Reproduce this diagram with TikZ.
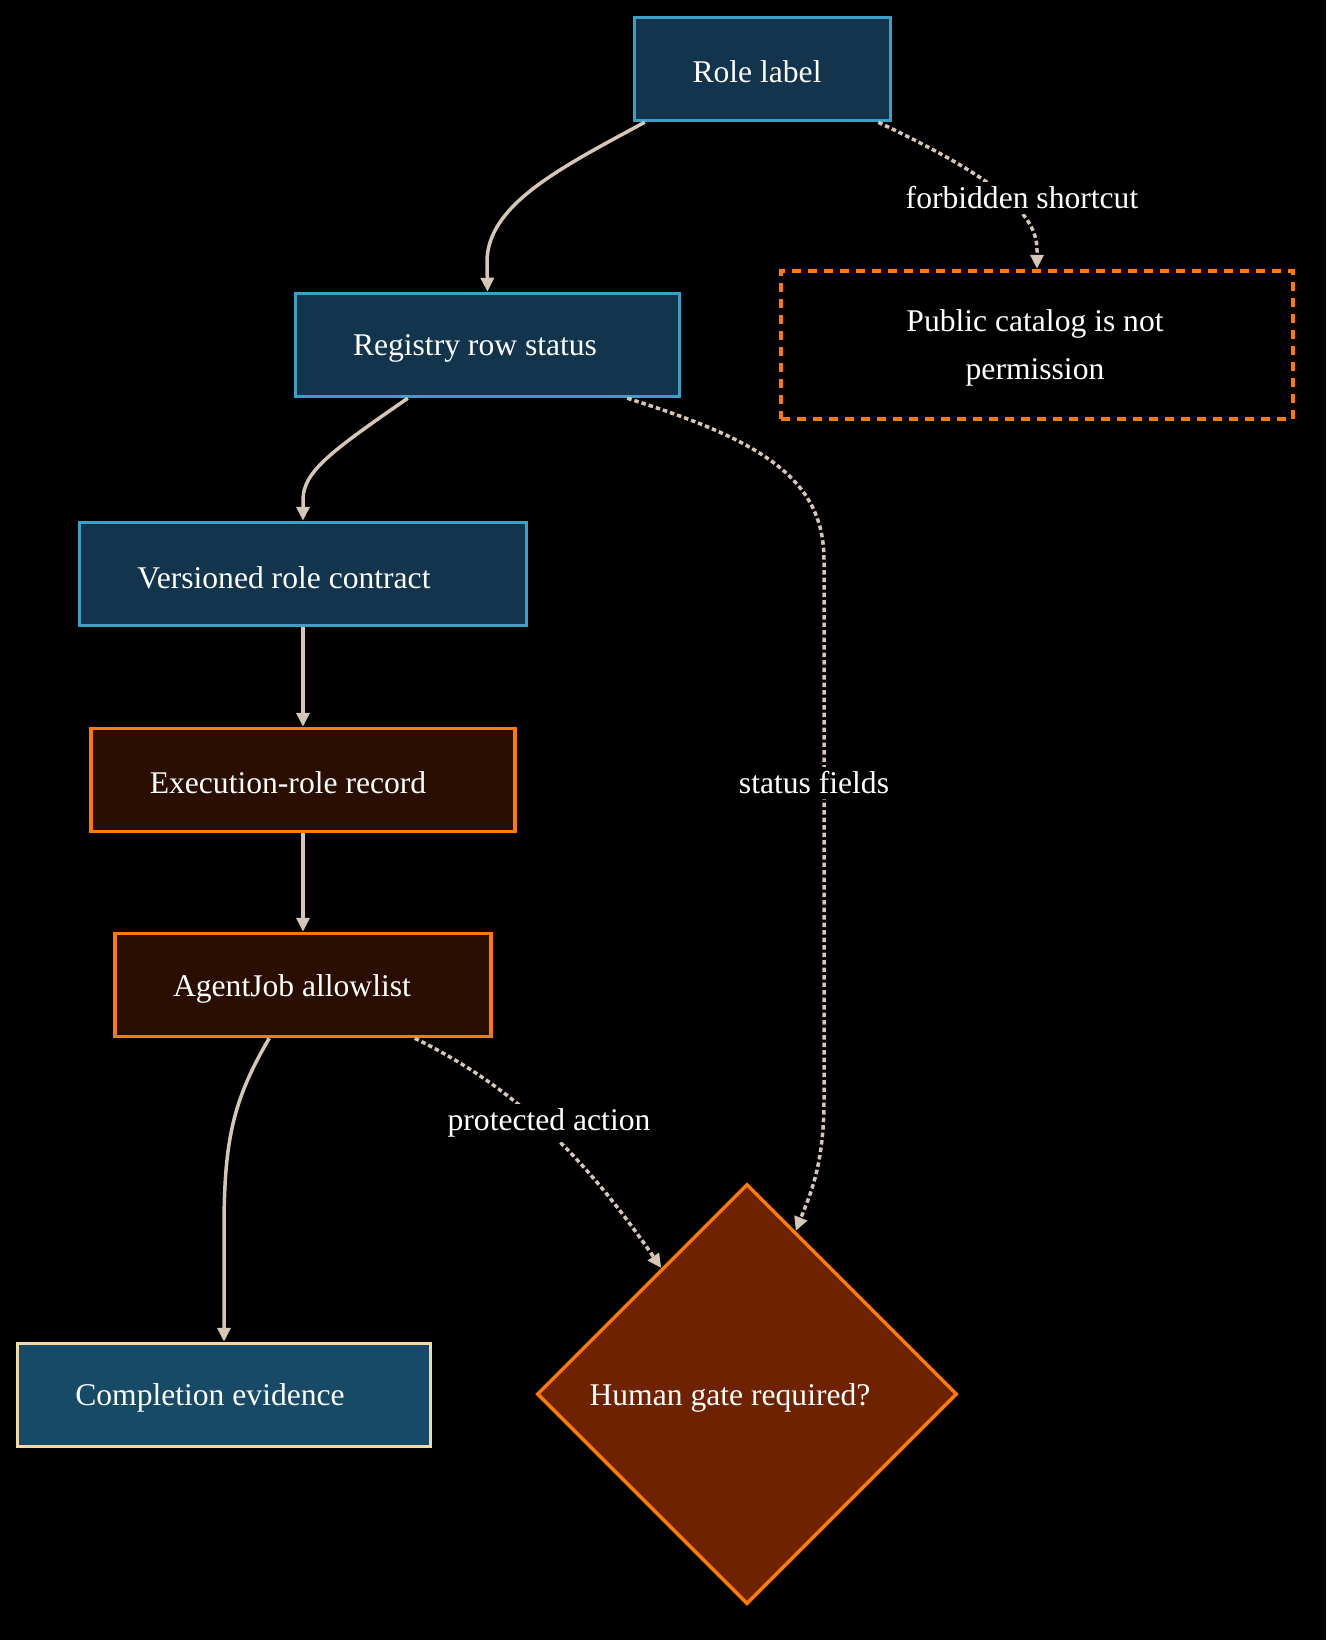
\documentclass[tikz,border=0pt]{standalone}
\usepackage{fontspec}
\setmainfont{Liberation Serif}
\usetikzlibrary{shapes.geometric,arrows.meta,calc}
\definecolor{bluefill}{HTML}{12344D}
\definecolor{blueline}{HTML}{3E9FC6}
\definecolor{evfill}{HTML}{174A66}
\definecolor{evline}{HTML}{F2D8A7}
\definecolor{orfill}{HTML}{2A0E02}
\definecolor{orline}{HTML}{FF7A00}
\definecolor{gatefill}{HTML}{6E2200}
\definecolor{edgec}{HTML}{D6C6B6}
\begin{document}
\begin{tikzpicture}[x=1pt,y=-1pt,
  box/.style={draw, line width=3.5pt, minimum width=#1, minimum height=103pt, inner sep=0pt},
  bluebox/.style={box=#1, fill=bluefill, draw=blueline},
  orbox/.style={box=#1, fill=orfill, draw=orline},
  txt/.style={text=white, inner sep=0pt, font=\fontsize{31.6pt}{48pt}\selectfont, align=center},
  lbl/.style={fill=black, text=white, inner sep=5pt, font=\fontsize{31.6pt}{48pt}\selectfont},
  arr/.style={draw=edgec, line width=3.5pt, -{Triangle[length=14pt,width=13pt]}},
  dotarr/.style={arr, dash pattern=on 4.5pt off 3pt}
]
\fill[black] (0,0) rectangle (1326,1640);
\useasboundingbox (0,0) rectangle (1326,1640);

% nodes
\node[bluebox=256pt] (rl) at (762.5,69) {};
\node[bluebox=384pt] (rs) at (487.5,345) {};
\node[draw=orline, fill=black, line width=4.5pt, dash pattern=on 9pt off 7pt,
      minimum width=512pt, minimum height=148pt, inner sep=0pt] (pc) at (1037,345) {};
\node[bluebox=447pt] (vrc) at (303,574) {};
\node[orbox=424pt] (er) at (303,780) {};
\node[orbox=376pt] (aj) at (303,985) {};
\node[box=413pt, fill=evfill, draw=evline] (ce) at (224,1395) {};
\node[diamond, draw=orline, fill=gatefill, line width=3.5pt, inner sep=0pt,
      minimum width=420pt, minimum height=420pt] (hg) at (747,1394) {};

% texts
\node[txt] (rl-t) at (757,72) {Role label};
\node[txt] (rs-t) at (475,348) {Registry row status};
\node[txt] (pc-t) at (1035,348) {Public catalog is not\\permission};
\node[txt] (vrc-t) at (284,578) {Versioned role contract};
\node[txt] (er-t) at (288,783) {Execution-role record};
\node[txt] (aj-t) at (292,989) {AgentJob allowlist};
\node[txt] (ce-t) at (210,1398) {Completion evidence};
\node[txt] (hg-t) at (730,1398) {Human gate required?};

% connectors
\coordinate (e7end) at ($(hg.north)!0.23!(hg.east)$);
\coordinate (e8end) at ($(hg.north)!0.405!(hg.west)$);

\draw[arr] ([xshift=12pt]rl.south west) .. controls (560,168) and (487,205) .. (487,262) -- (rs.north);
\draw[arr] ([xshift=114pt]rs.south west) .. controls (330,452) and (303,472) .. (303,500) -- (vrc.north);
\draw[arr] (vrc.south) -- (er.north);
\draw[arr] (er.south) -- (aj.north);
\draw[arr] ([xshift=156pt]aj.south west) .. controls (233,1100) and (224,1140) .. (224,1230) -- (ce.north);

\draw[dotarr] ([xshift=-14pt]rl.south east) .. controls (1000,180) and (1037,215) .. (1037,250) -- (pc.north);
\draw[dotarr] ([xshift=-54pt]rs.south east) .. controls (760,440) and (824,478) .. (824,560) -- (824,1100) .. controls (824,1165) and (810,1195) .. (e7end);
\draw[dotarr] ([xshift=-78pt]aj.south east) .. controls (510,1085) and (580,1150) .. (e8end);

% edge labels
\node[lbl] (l1) at (1022,198) {forbidden shortcut};
\node[lbl] (l2) at (814,783) {status fields};
\node[lbl] (l3) at (549,1123) {protected action};
\end{tikzpicture}
\end{document}
